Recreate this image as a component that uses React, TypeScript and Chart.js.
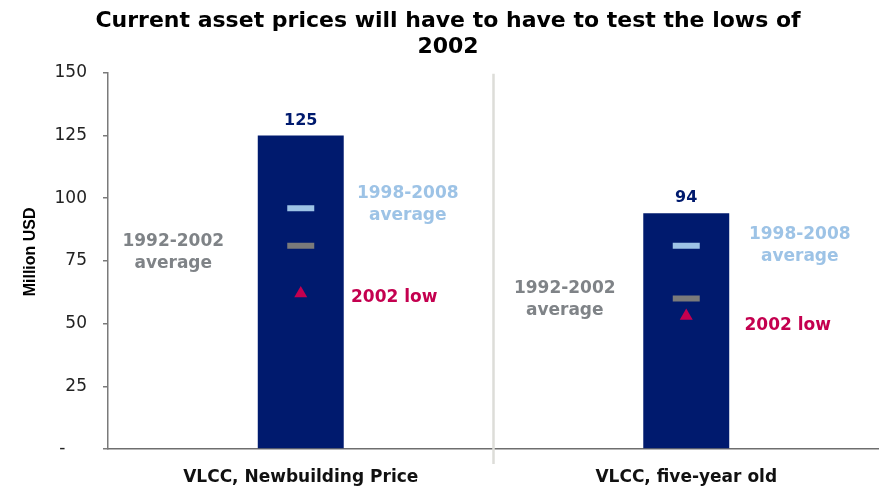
import React, { useEffect, useRef } from 'react';
import { Chart, registerables } from 'chart.js';

Chart.register(...registerables);

// ---------- data ----------
const titleLines = ['Current asset prices will have to have to test the lows of', '2002'];
const categories = ['VLCC, Newbuilding Price', 'VLCC, five-year old'];
const currentPrice = [125, 94];
const avg1998to2008 = [96, 81];
const avg1992to2002 = [81, 60];
const low2002 = [62, 53];
const yMin = 0;
const yMax = 150;
const yStep = 25;
const yAxisTitle = 'Million USD';
const label1998 = ['1998-2008', 'average'];
const label1992 = ['1992-2002', 'average'];
const labelLow = ['2002 low'];

// ---------- style ----------
const NAVY = '#001A6E';
const LIGHT_BLUE = '#9DC3E6';
const GREY_MARK = '#7A7A7A';
const GREY_TEXT = '#7F8387';
const CRIMSON = '#C4004F';
const FONT = "'DejaVu Sans', Verdana, sans-serif";
const ARIAL = "'Liberation Sans', Arial, sans-serif";

// label placement relative to marker pixel (per category)
const annotations = [
  { text: label1998, values: avg1998to2008, color: LIGHT_BLUE, dx: [107, 113.5], dy: [-14.5, -11.5] },
  { text: label1992, values: avg1992to2002, color: GREY_TEXT, dx: [-127.5, -121.5], dy: [-4.5, -10] },
  { text: labelLow, values: low2002, color: CRIMSON, dx: [93.5, 101.5], dy: [4, 9.5] },
];

const overlayPlugin = {
  id: 'overlay',
  beforeDatasetsDraw(chart: any) {
    const { ctx, scales, chartArea } = chart;
    const x = scales.x;
    const mid = (x.getPixelForValue(0) + x.getPixelForValue(1)) / 2;
    ctx.save();
    ctx.strokeStyle = '#DDDDD8';
    ctx.lineWidth = 2.5;
    ctx.beginPath();
    ctx.moveTo(mid, chartArea.top + 1);
    ctx.lineTo(mid, chartArea.bottom + 15);
    ctx.stroke();
    ctx.restore();
  },
  afterDatasetsDraw(chart: any) {
    const { ctx, scales, chartArea } = chart;
    const x = scales.x;
    const y = scales.y;
    ctx.save();
    ctx.textAlign = 'center';
    ctx.textBaseline = 'middle';
    // y axis title
    ctx.save();
    ctx.translate(31, (chartArea.top + chartArea.bottom) / 2 - 9);
    ctx.rotate(-Math.PI / 2);
    ctx.font = `bold 16px ${ARIAL}`;
    ctx.fillStyle = '#000';
    ctx.fillText(yAxisTitle, 0, 0);
    ctx.restore();
    // value labels
    ctx.font = `bold 16px ${FONT}`;
    ctx.fillStyle = NAVY;
    currentPrice.forEach((v, i) => {
      ctx.fillText(String(v), x.getPixelForValue(i), y.getPixelForValue(v) - 15);
    });
    // annotations
    ctx.font = `bold 17px ${FONT}`;
    annotations.forEach((a) => {
      ctx.fillStyle = a.color;
      a.values.forEach((v, i) => {
        const px = x.getPixelForValue(i) + a.dx[i];
        const py = y.getPixelForValue(v) + a.dy[i];
        a.text.forEach((line, k) => ctx.fillText(line, px, py + k * 22));
      });
    });
    ctx.restore();
  },
};

export default function App() {
  const ref = useRef<HTMLCanvasElement>(null);
  useEffect(() => {
    if (!ref.current) return;
    const chart = new Chart(ref.current, {
      data: {
        labels: categories,
        datasets: [
          {
            type: 'line',
            label: '1998-2008 average',
            data: avg1998to2008,
            showLine: false,
            pointStyle: 'line',
            pointRadius: 13.5,
            pointBorderWidth: 6,
            pointBorderColor: LIGHT_BLUE,
            pointBackgroundColor: LIGHT_BLUE,
            order: 1,
          },
          {
            type: 'line',
            label: '1992-2002 average',
            data: avg1992to2002,
            showLine: false,
            pointStyle: 'line',
            pointRadius: 13.5,
            pointBorderWidth: 6,
            pointBorderColor: GREY_MARK,
            pointBackgroundColor: GREY_MARK,
            order: 2,
          },
          {
            type: 'line',
            label: '2002 low',
            data: low2002,
            showLine: false,
            pointStyle: 'triangle',
            pointRadius: 7.5,
            pointBorderWidth: 0,
            pointBorderColor: CRIMSON,
            pointBackgroundColor: CRIMSON,
            order: 3,
          },
          {
            type: 'bar',
            label: 'Current',
            data: currentPrice,
            backgroundColor: NAVY,
            barPercentage: 0.223,
            categoryPercentage: 1,
            order: 10,
          },
        ],
      } as any,
      options: {
        animation: false,
        responsive: false,
        devicePixelRatio: 1,
        events: [],
        layout: { autoPadding: false, padding: { left: 17, right: 0, top: 0, bottom: 0 } },
        plugins: {
          legend: { display: false },
          tooltip: { enabled: false },
          title: {
            display: true,
            text: titleLines,
            color: '#000',
            font: { family: FONT, size: 22, weight: 'bold', lineHeight: 1.2 },
            padding: { top: 8, bottom: 12 },
          },
        },
        scales: {
          x: {
            grid: { display: false, drawTicks: true, tickLength: 18, tickColor: 'rgba(0,0,0,0)' },
            border: { display: true, color: '#6E6E6E', width: 1.5 },
            ticks: {
              color: '#111',
              font: { family: FONT, size: 17, weight: 'bold' },
              padding: 0,
              maxRotation: 0,
              autoSkip: false,
            },
            afterFit: (s: any) => {
              s.height = 37;
              s.paddingRight = 0;
              s.paddingLeft = 0;
            },
          },
          y: {
            min: yMin,
            max: yMax,
            ticks: {
              stepSize: yStep,
              color: '#222',
              font: { family: FONT, size: 17 },
              padding: 16,
              callback: (v: any) => (v === 0 ? '-    ' : String(v)),
            },
            grid: { drawOnChartArea: false, drawTicks: true, tickLength: 5, color: '#7A7A7A', lineWidth: 1.5 },
            border: { display: true, color: '#7A7A7A', width: 1.5 },
            afterFit: (s: any) => {
              s.width = 91;
            },
          },
        },
      } as any,
      plugins: [overlayPlugin],
    });
    return () => chart.destroy();
  }, []);
  return (
    <div style={{ position: 'fixed', left: 0, top: 0, width: 879, height: 486 }}>
      <canvas ref={ref} width={879} height={486} style={{ display: 'block' }} />
    </div>
  );
}
